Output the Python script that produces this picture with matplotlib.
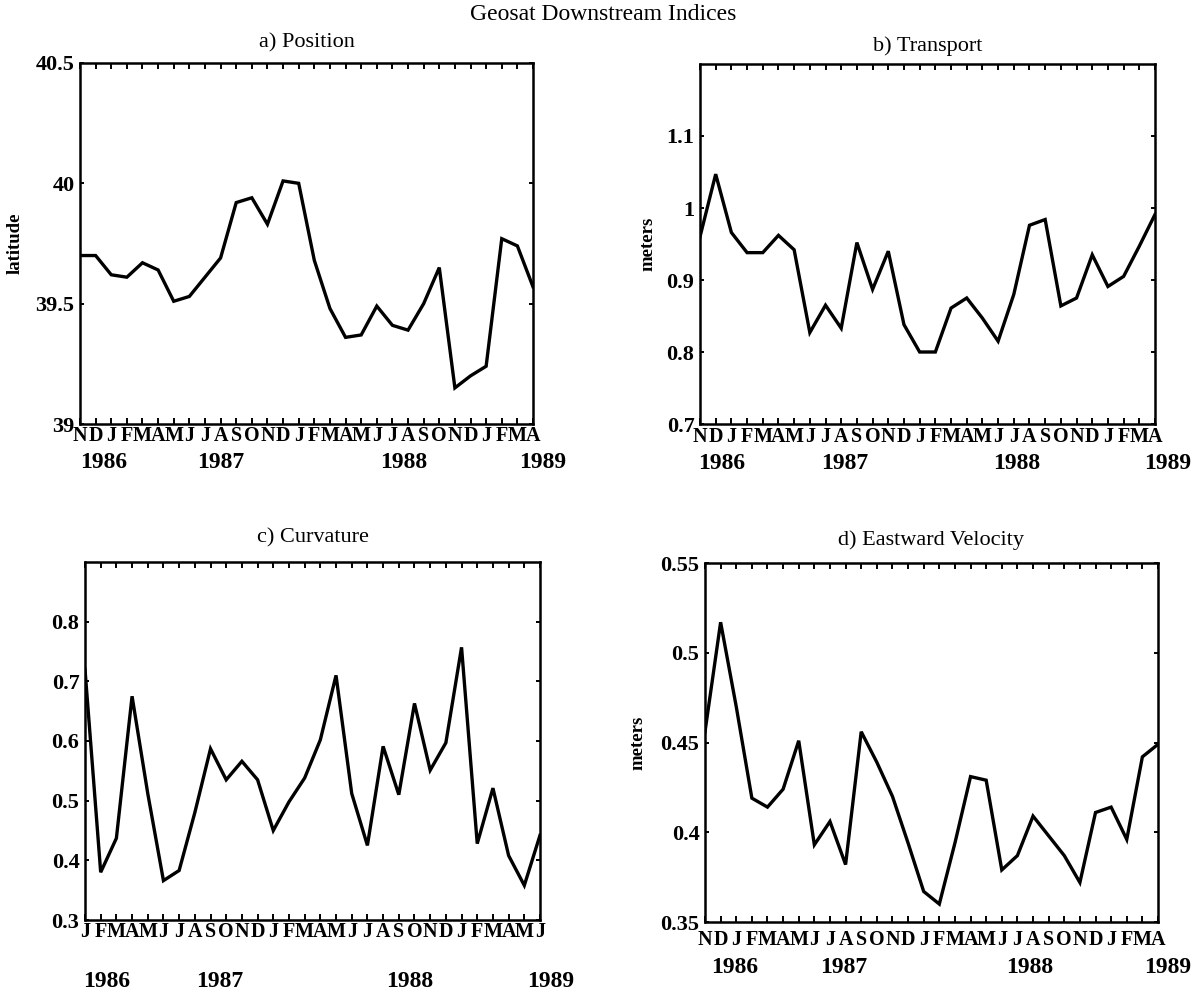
import numpy as np
import matplotlib
matplotlib.use('Agg')
import matplotlib.pyplot as plt
import matplotlib.transforms as mtransforms

plt.rcParams['font.family'] = ['Liberation Serif', 'DejaVu Serif']

W, H = 1195, 998

# month letters under each monthly point
months_nd = list('NDJFMAMJJASONDJFMAMJJASONDJFMA')
months_jj = list('JFMAMJJASONDJFMAMJJASONDJFMAMJ')
years = ['1986', '1987', '1988', '1989']

# monthly indices
position = [39.70, 39.70, 39.62, 39.61, 39.67, 39.64, 39.51, 39.53, 39.61, 39.69,
            39.92, 39.94, 39.83, 40.01, 40.00, 39.68, 39.48, 39.36, 39.37, 39.49,
            39.41, 39.39, 39.50, 39.65, 39.15, 39.20, 39.24, 39.77, 39.74, 39.57]
transport = [0.960, 1.047, 0.966, 0.938, 0.938, 0.962, 0.942, 0.827, 0.865, 0.833,
             0.952, 0.887, 0.940, 0.838, 0.800, 0.800, 0.861, 0.875, 0.847, 0.815,
             0.880, 0.976, 0.984, 0.864, 0.875, 0.935, 0.891, 0.905, 0.947, 0.991]
curvature = [0.720, 0.380, 0.437, 0.675, 0.512, 0.366, 0.383, 0.480, 0.587, 0.535,
             0.566, 0.535, 0.450, 0.498, 0.538, 0.602, 0.710, 0.512, 0.425, 0.591,
             0.510, 0.663, 0.551, 0.597, 0.757, 0.428, 0.521, 0.408, 0.358, 0.442]
velocity = [0.456, 0.517, 0.470, 0.419, 0.414, 0.424, 0.451, 0.393, 0.406, 0.382,
            0.456, 0.439, 0.420, 0.394, 0.367, 0.360, 0.394, 0.431, 0.429, 0.379,
            0.387, 0.409, 0.398, 0.387, 0.372, 0.411, 0.414, 0.396, 0.442, 0.449]


def px_rect(l, r, t, b):
    return [l / W, 1 - b / H, (r - l) / W, (b - t) / H]


panels = [
    dict(title='a) Position', data=position, months=months_nd, ylabel='latitude',
         ylim=(39, 40.5), yticks=[39, 39.5, 40, 40.5], ylabels=['39', '39.5', '40', '40.5'],
         rect=px_rect(80, 533, 63, 424), year_x=[1.5, 9.0, 20.7, 29.6], year_y=-0.108,
         title_y=1.055, lab_x=-0.125, pad=1.5),
    dict(title='b) Transport', data=transport, months=months_nd, ylabel='meters',
         ylim=(0.7, 1.2), yticks=[0.7, 0.8, 0.9, 1.0, 1.1], ylabels=['0.7', '0.8', '0.9', '1', '1.1'],
         rect=px_rect(700, 1155, 64, 424), year_x=[1.4, 9.2, 20.2, 29.8], year_y=-0.111,
         title_y=1.05, lab_x=-0.095, pad=2),
    dict(title='c) Curvature', data=curvature, months=months_jj, ylabel=None,
         ylim=(0.3, 0.9), yticks=[0.3, 0.4, 0.5, 0.6, 0.7, 0.8],
         ylabels=['0.3', '0.4', '0.5', '0.6', '0.7', '0.8'],
         rect=px_rect(85, 540, 562, 920), year_x=[1.4, 8.6, 20.7, 29.7], year_y=-0.173,
         title_y=1.067, lab_x=-0.12, pad=1.5),
    dict(title='d) Eastward Velocity', data=velocity, months=months_nd, ylabel='meters',
         ylim=(0.35, 0.55), yticks=[0.35, 0.4, 0.45, 0.5, 0.55],
         ylabels=['0.35', '0.4', '0.45', '0.5', '0.55'],
         rect=px_rect(705, 1158, 563, 922), year_x=[1.9, 8.9, 20.8, 29.6], year_y=-0.128,
         title_y=1.064, lab_x=-0.13, pad=6),
]

fig = plt.figure(figsize=(W / 100, H / 100), dpi=100)
fig.text(0.505, 1 - 15 / H, 'Geosat Downstream Indices', ha='center', va='center',
         fontsize=17)

for p in panels:
    ax = fig.add_axes(p['rect'])
    x = np.arange(len(p['data']))
    ax.plot(x, p['data'], color='black', lw=2.4, solid_joinstyle='miter')
    ax.set_xlim(0, len(x) - 1)
    ax.set_ylim(*p['ylim'])

    ax.set_xticks(x)
    ax.set_xticklabels(p['months'], fontsize=14.5, fontweight='bold')
    ax.set_yticks(p['yticks'])
    ax.set_yticklabels(p['ylabels'], fontsize=16, fontweight='bold')
    ax.tick_params(axis='x', direction='in', top=True, length=4, width=1.4, pad=p['pad'])
    ax.tick_params(axis='y', direction='in', right=True, length=3, width=1.4, pad=4)
    for s in ax.spines.values():
        s.set_linewidth(1.8)

    ax.text(0.5, p['title_y'], p['title'], transform=ax.transAxes, ha='center',
            va='center', fontsize=16)
    if p['ylabel']:
        ax.set_ylabel(p['ylabel'], fontsize=13.5, fontweight='bold')
        ax.yaxis.set_label_coords(p['lab_x'], 0.5)

    trans = mtransforms.blended_transform_factory(ax.transData, ax.transAxes)
    for yx, yr in zip(p['year_x'], years):
        ax.text(yx, p['year_y'], yr, transform=trans, ha='center', va='center',
                fontsize=17, fontweight='bold', clip_on=False)

fig.savefig('out.png', dpi=100)
